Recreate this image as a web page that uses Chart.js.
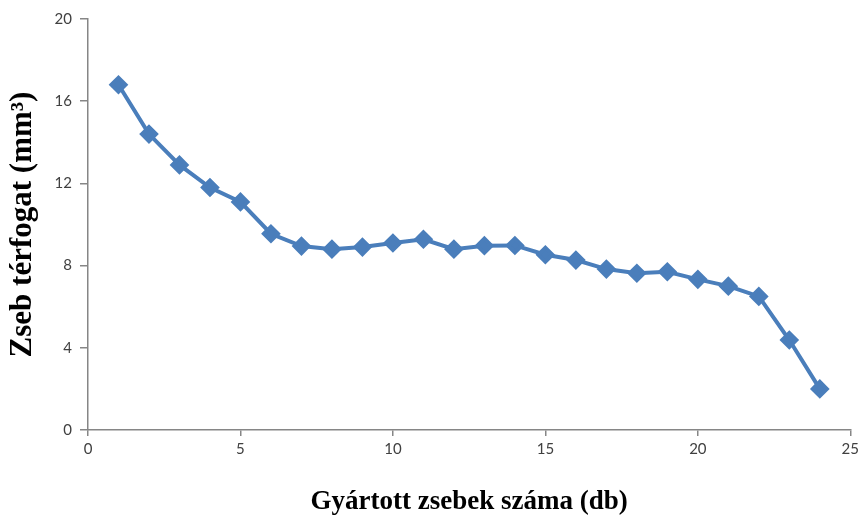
<!DOCTYPE html>
<html>
<head>
<meta charset="utf-8">
<script src="https://cdn.jsdelivr.net/npm/chart.js@4.4.1/dist/chart.umd.min.js"></script>
<style>
  html, body { margin: 0; padding: 0; background: #fff; }
  #wrap { width: 863px; height: 520px; }
</style>
</head>
<body>
<div id="wrap"><canvas id="c"></canvas></div>
<script>
// darab (x) és térfogat (y) értékek
var darab = [1, 2, 3, 4, 5, 6, 7, 8, 9, 10, 11, 12, 13, 14, 15, 16, 17, 18, 19, 20, 21, 22, 23, 24];
var terfogat = [16.8, 14.4, 12.9, 11.8, 11.1, 9.55, 8.95, 8.8, 8.9, 9.1, 9.28, 8.8, 8.97, 8.98, 8.53, 8.27, 7.83, 7.63, 7.7, 7.33, 7.0, 6.5, 4.38, 2.0];
var xTicks = [0, 5, 10, 15, 20, 25];
var yTicks = [0, 4, 8, 12, 16, 20];

var pontok = darab.map(function (d, i) { return {x: d, y: terfogat[i]}; });
var szurke = '#868686';
var tickFont = {family: 'Lato, Calibri, sans-serif', size: 15};
var serif = '"Liberation Serif", "Times New Roman", serif';

new Chart(document.getElementById('c'), {
    type: 'line',
    data: {
        datasets: [{
            data: pontok,
            borderColor: '#4A7EBB',
            backgroundColor: '#4A7EBB',
            borderWidth: 4,
            pointStyle: 'rectRot',
            pointRadius: 7,
            pointHoverRadius: 7,
            tension: 0,
            fill: false
        }]
    },
    options: {
        responsive: true,
        maintainAspectRatio: false,
        animation: false,
        layout: {padding: {top: 19, right: 11, left: 0, bottom: 0}},
        plugins: {legend: {display: false}, tooltip: {enabled: false}},
        scales: {
            x: {
                type: 'linear',
                min: 0, max: 25,
                afterBuildTicks: function (s) { s.ticks = xTicks.map(function (v) { return {value: v}; }); },
                afterFit: function (s) { s.height = 90; },
                border: {color: szurke, width: 1.5},
                grid: {drawOnChartArea: false, color: szurke, tickLength: 6, lineWidth: 1.5},
                ticks: {font: tickFont, color: '#404040', padding: 4, maxRotation: 0},
                title: {display: true, text: 'Gyártott zsebek száma (db)', font: {family: serif, size: 27, weight: 'bold'}, color: '#000', padding: {top: 10, bottom: 2}}
            },
            y: {
                min: 0, max: 20,
                afterBuildTicks: function (s) { s.ticks = yTicks.map(function (v) { return {value: v}; }); },
                afterFit: function (s) { s.width = 88; },
                border: {color: szurke, width: 1.5},
                grid: {drawOnChartArea: false, color: szurke, tickLength: 8, lineWidth: 1.5},
                ticks: {font: tickFont, color: '#404040', padding: 8},
                title: {display: true, text: 'Zseb térfogat (mm³)', font: {family: serif, size: 31, weight: 'bold'}, color: '#000', padding: {top: 4, bottom: 0}}
            }
        }
    }
});
</script>
</body>
</html>
